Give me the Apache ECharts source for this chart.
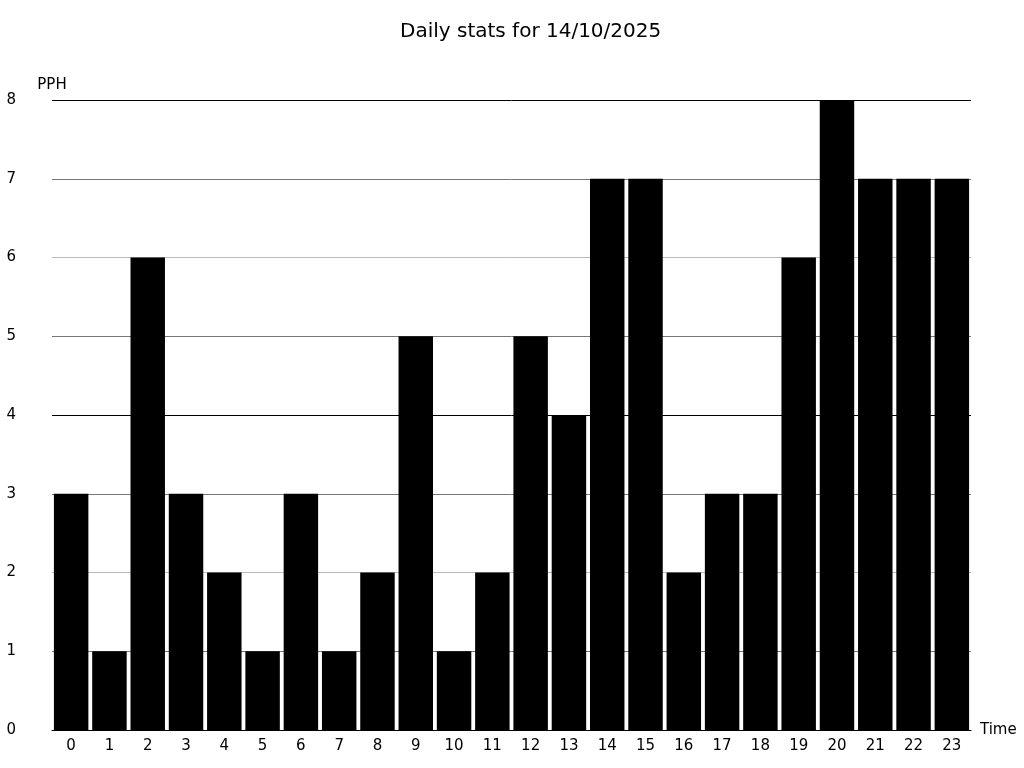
<!DOCTYPE html>
<html><head><meta charset="utf-8">
<script src="https://cdn.jsdelivr.net/npm/echarts@6/dist/echarts.min.js"></script>
<style>html,body{margin:0;padding:0;background:#fff}#c{width:1024px;height:768px}</style>
</head><body><div id="c"></div>
<script>
const categories = ['0','1','2','3','4','5','6','7','8','9','10','11','12','13','14','15','16','17','18','19','20','21','22','23'];
const values = [3,1,6,3,2,1,3,1,2,5,1,2,5,4,7,7,2,3,3,6,8,7,7,7];
const titleText = 'Daily stats for 14/10/2025';
const font = 'DejaVu Sans';
const chart = echarts.init(document.getElementById('c'), null, {renderer:'canvas'});
chart.setOption({
  animation:false,
  backgroundColor:'#fff',
  title:{text:titleText,left:395,top:17,textStyle:{fontFamily:font,fontSize:20,fontWeight:'normal',color:'#000'}},
  grid:{left:52,right:53,top:100,bottom:38,containLabel:false},
  xAxis:{type:'category',data:categories,name:'Time',nameLocation:'end',nameGap:9,
    nameTextStyle:{fontFamily:font,fontSize:15,color:'#000',padding:[2,0,0,0]},
    axisLine:{lineStyle:{color:'#000',width:1}},axisTick:{show:false},
    axisLabel:{fontFamily:font,fontSize:15,color:'#000',margin:9}},
  yAxis:{type:'value',min:0,max:8,interval:1,name:'PPH',nameGap:7,
    nameTextStyle:{fontFamily:font,fontSize:15,color:'#000',align:'center'},
    axisLine:{show:false},axisTick:{show:false},
    axisLabel:{fontFamily:font,fontSize:15,color:'#000',margin:36,align:'right',padding:[2,0,0,0]},
    splitLine:{lineStyle:{color:['#000','#777','#bbb','#777'],width:1}}},
  series:[{type:'bar',data:values,barCategoryGap:'10%',itemStyle:{color:'#000'}}]
});
</script></body></html>
